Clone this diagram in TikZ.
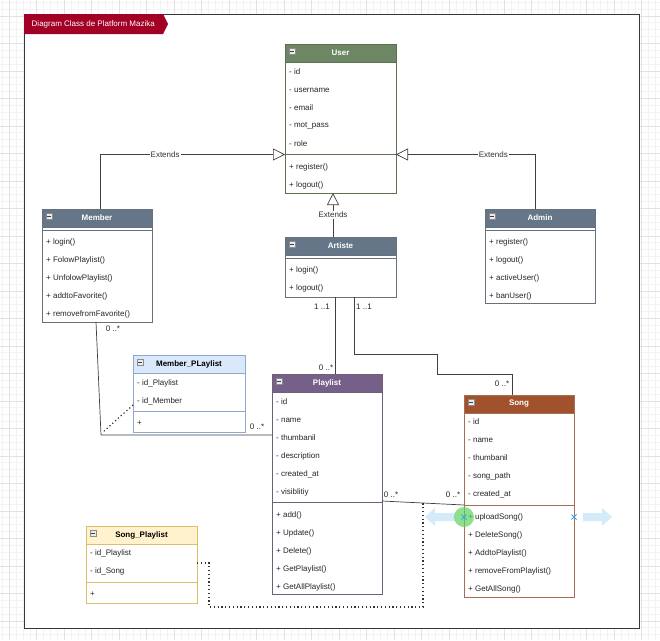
\documentclass[tikz,border=0pt]{standalone}
\usepackage{fontspec}
\setmainfont{Liberation Sans}
\usetikzlibrary{arrows.meta}

\definecolor{userfill}{HTML}{6D8764}
\definecolor{userline}{HTML}{5C7052}
\definecolor{slatefill}{HTML}{647687}
\definecolor{slateline}{HTML}{66717C}
\definecolor{plumfill}{HTML}{76608A}
\definecolor{plumline}{HTML}{6E6079}
\definecolor{rustfill}{HTML}{A0522D}
\definecolor{rustline}{HTML}{A66F55}
\definecolor{skyfill}{HTML}{DAE8FC}
\definecolor{skyline}{HTML}{8FA8CC}
\definecolor{sandfill}{HTML}{FFF2CC}
\definecolor{sandline}{HTML}{DDBF6A}
\definecolor{tabred}{HTML}{A20025}
\definecolor{gridminor}{HTML}{F3F3F3}
\definecolor{gridmajor}{HTML}{E2E2E2}
\definecolor{hoverblue}{HTML}{CDE8F8}
\definecolor{markblue}{HTML}{2FA8E8}
\definecolor{hovergreen}{HTML}{5FD35F}

% class box: name, x1, y1, x2, y2, header fill, border, title colour, title
\newcommand{\umlbox}[9]{%
  \node[fill=white, inner sep=0pt, outer sep=0pt,
        minimum width={#4-#2}, minimum height={#5-#3}, anchor=north west] (#1) at (#2,#3) {};
  \fill[#6] (#2,#3) rectangle (#4,#3+18);
  \draw[#7, line width=0.8pt] (#2,#3) rectangle (#4,#5);
  \draw[#7, line width=0.8pt] (#2,#3+18) -- (#4,#3+18);
  \filldraw[fill=white!92!black, draw=white!55!black, line width=0.4pt] (#2+4,#3+4) rectangle (#2+10,#3+10);
  \draw[black!75, line width=0.7pt] (#2+5.2,#3+7) -- (#2+8.8,#3+7);
  \node[font=\bfseries\fontsize{8}{9}\selectfont, text=#8, inner sep=0pt] (#1-title) at ({(#2+#4)/2},#3+9) {#9};
}
% rows of a class box: name prefix, x, y of first row, list of rows
\newcommand{\umlrows}[4]{%
  \foreach \rowtext [count=\rowi] in {#4} {\node[item] (#1\rowi) at (#2,{#3+18*(\rowi-1)}) {\rowtext};}%
}

\begin{document}
\begin{tikzpicture}[x=1pt, y=-1pt,
  item/.style={anchor=west, inner sep=0pt, font=\fontsize{8}{9}\selectfont, text=black!85},
  conn/.style={draw=black!75, line width=0.7pt},
  ext/.style={-{Triangle[open, length=12pt, width=12pt, line width=0.7pt]}},
  dotline/.style={draw=black!80, line width=1.2pt, dash pattern=on 1.2pt off 2.6pt},
  lbl/.style={font=\fontsize{8}{9}\selectfont, inner sep=1pt, text=black!85},
  extlbl/.style={lbl, fill=white, text=black!80}]

\useasboundingbox (0,0) rectangle (660,640);

% background grid
\foreach \i in {0,...,95} \draw[gridminor, line width=0.5pt] ({2.325+6.875*\i},0) -- ({2.325+6.875*\i},640);
\foreach \i in {0,...,93} \draw[gridminor, line width=0.5pt] (0,{2.05+6.875*\i}) -- (660,{2.05+6.875*\i});
\foreach \i in {0,...,23} \draw[gridmajor, line width=0.6pt] ({9.2+27.5*\i},0) -- ({9.2+27.5*\i},640);
\foreach \i in {0,...,22} \draw[gridmajor, line width=0.6pt] (0,{15.8+27.5*\i}) -- (660,{15.8+27.5*\i});

% frame and title tab
\node[draw=black!78, line width=1.2pt, fill=white, inner sep=0pt,
      minimum width=615, minimum height=614, anchor=north west] (frame) at (24,14) {};
\fill[tabred] (24,14) -- (163,14) -- (168,24) -- (163,34) -- (24,34) -- cycle;
\node[anchor=west, inner sep=0pt, text=white, font=\fontsize{8}{9}\selectfont] (frametitle) at (31.5,24) {Diagram Class de Platform Mazika};

% User
\umlbox{user}{285}{44}{396}{193}{userfill}{userline}{white}{User}
\umlrows{user-a}{289}{72}{- id, - username, - email, - mot\_pass, - role}
\draw[userline, line width=0.8pt] (285,154.5) -- (396,154.5);
\umlrows{user-m}{289}{167}{+ register(), + logout()}

% Member
\umlbox{member}{42}{209}{152}{322}{slatefill}{slateline}{white}{Member}
\draw[slateline, line width=0.8pt] (42,230.5) -- (152,230.5);
\umlrows{member-m}{46}{242}{+ login(), + FolowPlaylist(), + UnfolowPlaylist(), + addtoFavorite(), + removefromFavorite()}

% Admin
\umlbox{admin}{485}{209}{595}{303}{slatefill}{slateline}{white}{Admin}
\draw[slateline, line width=0.8pt] (485,230.5) -- (595,230.5);
\umlrows{admin-m}{489}{242}{+ register(), + logout(), + activeUser(), + banUser()}

% Artiste
\umlbox{artiste}{285}{237}{396}{297}{slatefill}{slateline}{white}{Artiste}
\draw[slateline, line width=0.8pt] (285,258.5) -- (396,258.5);
\umlrows{artiste-m}{289}{270}{+ login(), + logout()}

% Member_PLaylist
\umlbox{mpl}{133}{355}{245}{432}{skyfill}{skyline}{black}{Member\_PLaylist}
\umlrows{mpl-a}{137}{383}{- id\_Playlist, - id\_Member}
\draw[skyline, line width=0.8pt] (133,411) -- (245,411);
\umlrows{mpl-m}{137}{423}{+}

% Playlist
\umlbox{playlist}{272}{374}{382}{594}{plumfill}{plumline}{white}{Playlist}
\umlrows{playlist-a}{276}{402}{- id, - name, - thumbanil, - description, - created\_at, - visiblitiy}
\draw[plumline, line width=0.8pt] (272,502.5) -- (382,502.5);
\umlrows{playlist-m}{276}{515}{+ add(), + Update(), + Delete(), + GetPlaylist(), + GetAllPlaylist()}

% Song
\umlbox{song}{464}{395}{574}{597}{rustfill}{rustline}{white}{Song}
\umlrows{song-a}{468}{422}{- id, - name, - thumbanil, - song\_path, - created\_at}
\draw[rustline, line width=0.8pt] (464,505) -- (574,505);
\umlrows{song-m}{468}{517}{+ uploadSong(), + DeleteSong(), + AddtoPlaylist(), + removeFromPlaylist(), + GetAllSong()}

% Song_Playlist
\umlbox{sp}{86}{526}{197}{603}{sandfill}{sandline}{black}{Song\_Playlist}
\umlrows{sp-a}{90}{553}{- id\_Playlist, - id\_Song}
\draw[sandline, line width=0.8pt] (86,582) -- (197,582);
\umlrows{sp-m}{90}{594}{+}

% generalisations
\draw[conn, ext] ([xshift=3pt]member.north) |- ([yshift=-36pt]user.west)
  node[extlbl, pos=0.676] (ext-member) {Extends};
\draw[conn, ext] ([xshift=-5pt]admin.north) |- ([yshift=-36pt]user.east)
  node[extlbl, pos=0.65] (ext-admin) {Extends};
\draw[conn, ext] ([xshift=-7.5pt]artiste.north) -- ([xshift=-7.5pt]user.south)
  node[extlbl, midway] (ext-artiste) {Extends};

% Member -- Playlist, with its association class
\coordinate (mpBend) at (101,435);
\draw[conn] ([xshift=-1pt]member.south) -- (mpBend) -- ([yshift=49pt]playlist.west);
\draw[dotline] ([yshift=-11.5pt]mpl.west) -- (103,432);
\node[lbl] (mult-member) at (113,329) {0 ..*};
\node[lbl] (mult-mplaylist) at (257,427) {0 ..*};

% Artiste -- Playlist
\coordinate (apTop) at ([xshift=-5.5pt]artiste.south);
\draw[conn] (apTop) -- (apTop |- playlist.north);
\node[lbl] (mult-ap1) at (322,307) {1 ..1};
\node[lbl] (mult-ap2) at (326,368) {0 ..*};

% Artiste -- Song
\coordinate (asB1) at (437,354);
\coordinate (asB2) at (437,374);
\draw[conn] ([xshift=13.5pt]artiste.south) |- (asB1) -- (asB2) -| ([xshift=-7pt]song.north);
\node[lbl] (mult-as1) at (364,307) {1 ..1};
\node[lbl] (mult-as2) at (502,384) {0 ..*};

% Playlist -- Song, with its association class
\draw[conn] ([yshift=-17pt]playlist.east) -- ([yshift=-9pt]song.west);
\node[lbl] (mult-ps1) at (391,495) {0 ..*};
\node[lbl] (mult-ps2) at (453,495) {0 ..*};
\coordinate (spBend) at (209,607);
\coordinate (spEnd) at (423,503);
\draw[dotline] ([yshift=1.5pt]sp.east) -| (spBend) -| (spEnd);

% connection handles around Song
\fill[hoverblue, opacity=0.85] (425,517) -- (435,508) -- (435,513) -- (455,513) -- (455,521) -- (435,521) -- (435,526) -- cycle;
\fill[hoverblue, opacity=0.85] (583,513) -- (602,513) -- (602,508) -- (612,517) -- (602,526) -- (602,521) -- (583,521) -- cycle;
\fill[hovergreen, opacity=0.7] (464,517) circle (10);
\draw[markblue, line width=1pt] (461.5,514.5) -- (466.5,519.5) (461.5,519.5) -- (466.5,514.5);
\draw[markblue, line width=1pt] (571.5,514.5) -- (576.5,519.5) (571.5,519.5) -- (576.5,514.5);

\end{tikzpicture}
\end{document}
